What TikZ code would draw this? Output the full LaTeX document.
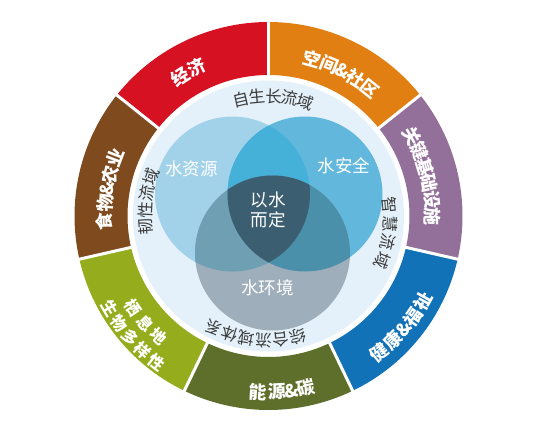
\documentclass[tikz,border=0pt]{standalone}
\usepackage{fontspec}
\newfontfamily\cjk{Noto Sans CJK SC}
\definecolor{cred}{HTML}{D51122}
\definecolor{corange}{HTML}{E27F12}
\definecolor{cpurple}{HTML}{93709A}
\definecolor{cblue}{HTML}{1272B8}
\definecolor{cdgreen}{HTML}{5D6F2A}
\definecolor{clgreen}{HTML}{95AD1C}
\definecolor{cbrown}{HTML}{7E4A1E}
\definecolor{cdisk}{HTML}{E4F1FA}
\definecolor{cA}{HTML}{A2D2E9}
\definecolor{cB}{HTML}{62B8DC}
\definecolor{cAB}{HTML}{45B0D8}
\definecolor{cC}{HTML}{9EAEBB}
\definecolor{cAC}{HTML}{6F9FB3}
\definecolor{cBC}{HTML}{4A90AA}
\definecolor{cABC}{HTML}{3B5E70}
\definecolor{txtgrey}{HTML}{3C3C3C}
\begin{document}
\begin{tikzpicture}[x=1pt,y=1pt,
  outer/.style={font=\cjk\bfseries\fontsize{18}{18}\selectfont, text=white, inner sep=0pt},
  outersmall/.style={font=\cjk\bfseries\fontsize{16}{16}\selectfont, text=white, inner sep=0pt},
  ringtxt/.style={font=\cjk\fontsize{16.5}{16.5}\selectfont, text=txtgrey, inner sep=0pt},
  venn/.style={font=\cjk\fontsize{17.5}{20.5}\selectfont, text=white, align=center, inner sep=0pt},
  divider/.style={white, line width=3pt}]
\useasboundingbox[fill=white] (-268.5,-226) rectangle (268.5,216);
% outer ring segments
\foreach \s/\e/\col in {90/141.43/cred, 38.57/90/corange, -12.86/38.57/cpurple,
  -64.29/-12.86/cblue, -115.71/-64.29/cdgreen, -167.14/-115.71/clgreen, 141.43/192.86/cbrown}
  \fill[\col] (\s:141pt) arc[start angle=\s, end angle=\e, radius=141pt]
     -- (\e:194pt) arc[start angle=\e, end angle=\s, radius=194pt] -- cycle;
\foreach \a in {90,38.57,-12.86,-64.29,-115.71,-167.14,141.43}
  \draw[divider] (\a:138pt) -- (\a:197pt);
% inner disk
\fill[cdisk] (0,0) circle[radius=135.5pt];
% venn
\coordinate (A) at (-36,22);
\coordinate (B) at (36.5,22);
\coordinate (C) at (4,-37);
\fill[cA] (A) circle[radius=77.5pt];
\fill[cB] (B) circle[radius=77.5pt];
\fill[cC] (C) circle[radius=77.5pt];
\begin{scope}\clip (A) circle[radius=77.5pt]; \fill[cAB] (B) circle[radius=77.5pt];\end{scope}
\begin{scope}\clip (A) circle[radius=77.5pt]; \fill[cAC] (C) circle[radius=77.5pt];\end{scope}
\begin{scope}\clip (B) circle[radius=77.5pt]; \fill[cBC] (C) circle[radius=77.5pt];\end{scope}
\begin{scope}\clip (A) circle[radius=77.5pt]; \clip (B) circle[radius=77.5pt]; \fill[cABC] (C) circle[radius=77.5pt];\end{scope}
\node[venn] (wr) at (-77.2,46.7) {水资源};
\node[venn] (ws) at (75.7,50) {水安全};
\node[venn] (wc) at (-0.2,6) {以水\\而定};
\node[venn] (we) at (-1,-72.3) {水环境};
% inner ring texts (clockwise, tops outward)
\foreach \c/\a [count=\i] in {自/103.1,生/95.3,长/87.5,流/79.7,域/71.9}
  \node[ringtxt, rotate=\a-90] (t\i) at (\a:120pt) {\c};
\foreach \c/\a [count=\i] in {智/5.2,慧/-3.6,流/-12.4,域/-21.2}
  \node[ringtxt, rotate=\a-90] (r\i) at (\a:122pt) {\c};
\foreach \c/\a [count=\i] in {综/-76.1,合/-84.1,流/-92.1,域/-100.1,体/-108.1,系/-116.1}
  \node[ringtxt, rotate=\a-90] (b\i) at (\a:124.5pt) {\c};
\foreach \c/\a [count=\i] in {韧/185,性/177.1,流/169.2,域/161.3}
  \node[ringtxt, rotate=\a-90] (l\i) at (\a:123.5pt) {\c};
% outer labels, upper half (clockwise, tops outward)
\foreach \c/\a [count=\i] in {经/122.5,济/115.9}
  \node[outer, rotate=\a-90] (o1\i) at (\a:165pt) {\c};
\foreach \c/\a [count=\i] in {空/74.4,间/68.0,\&/62.9,社/57.8,区/51.4}
  \node[outer, rotate=\a-90] (o2\i) at (\a:163pt) {\c};
\foreach \c/\a [count=\i] in {关/29.3,键/23.4,基/17.5,础/11.6,设/5.7,施/-0.2}
  \node[outer, rotate=\a-90] (o3\i) at (\a:164pt) {\c};
\foreach \c/\a [count=\i] in {食/182.0,物/175.6,\&/170.5,农/165.4,业/159.0}
  \node[outer, rotate=\a-90] (o7\i) at (\a:164pt) {\c};
% outer labels, lower half (counterclockwise, tops inward)
\foreach \c/\a [count=\i] in {健/-50.9,康/-44.8,\&/-39.9,福/-35.0,祉/-28.9}
  \node[outer, rotate=\a+90] (o4\i) at (\a:176pt) {\c};
\foreach \c/\a [count=\i] in {能/-93.4,源/-87.3,\&/-82.5,碳/-77.6}
  \node[outer, rotate=\a+90] (o5\i) at (\a:176pt) {\c};
\foreach \c/\a [count=\i] in {栖/-145.7,息/-139.05,地/-132.4}
  \node[outersmall, rotate=\a+90] (o6a\i) at (\a:163.5pt) {\c};
\foreach \c/\a [count=\i] in {生/-149.8,物/-144.2,多/-138.6,样/-133.0,性/-127.4}
  \node[outersmall, rotate=\a+90] (o6b\i) at (\a:184pt) {\c};
\end{tikzpicture}
\end{document}
